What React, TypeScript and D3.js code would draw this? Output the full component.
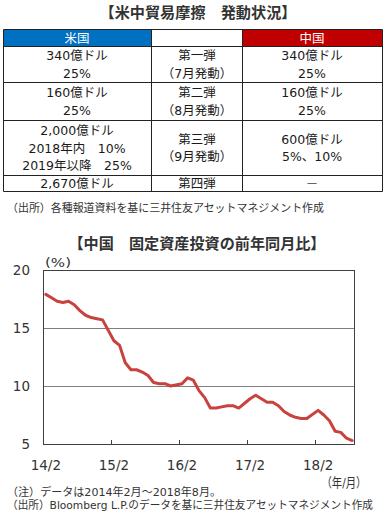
import React, { useEffect, useRef } from 'react';
import * as d3 from 'd3';

// table contents
const usCol = [['340億ドル', '25%'], ['160億ドル', '25%'], ['2,000億ドル', '2018年内　10%', '2019年以降　25%'], ['2,670億ドル']];
const phaseCol = [['第一弾', '（7月発動）'], ['第二弾', '（8月発動）'], ['第三弾', '（9月発動）'], ['第四弾']];
const chinaCol = [['340億ドル', '25%'], ['160億ドル', '25%'], ['600億ドル', '5%、10%'], ['－']];

// China fixed asset investment, YoY % (ytd), Feb 2014 - Aug 2018; January not published
const fai2014 = [17.9, 17.6, 17.3, 17.2, 17.3, 17.0, 16.5, 16.1, 15.9, 15.8, 15.7];
const fai2015 = [null, 13.9, 13.5, 12.0, 11.4, 11.4, 11.2, 10.9, 10.3, 10.2, 10.2, 10.0];
const fai2016 = [null, 10.2, 10.7, 10.5, 9.6, 9.0, 8.1, 8.1, 8.2, 8.3, 8.3, 8.1];
const fai2017 = [null, 8.9, 9.2, 8.9, 8.6, 8.6, 8.3, 7.8, 7.5, 7.3, 7.2, 7.2];
const fai2018 = [null, 7.9, 7.5, 7.0, 6.1, 6.0, 5.5, 5.3];
const yTicks = [5, 10, 15, 20];

const FONT = "'DejaVu Sans', 'Noto Sans CJK JP', sans-serif";
const INK = '#1a1a1a';

function App() {
  const svgRef = useRef<SVGSVGElement>(null);

  useEffect(() => {
    const svg = d3.select(svgRef.current);
    svg.selectAll('*').remove();

    const text = (x: number, y: number, s: string, opts: any = {}) => {
      const t = svg.append('text')
        .attr('x', x).attr('y', y)
        .attr('dy', '0.36em')
        .attr('font-family', FONT)
        .attr('font-size', opts.size || 12.5)
        .attr('font-weight', opts.weight || 'normal')
        .attr('fill', opts.fill || INK)
        .attr('text-anchor', opts.anchor || 'middle')
        .text(s);
      if (opts.len) t.attr('textLength', opts.len).attr('lengthAdjust', 'spacingAndGlyphs');
      return t;
    };

    // ---- table ----
    text(198, 13, '【米中貿易摩擦　発動状況】', { size: 15, weight: 'bold', fill: '#333', len: 197 });

    const colX = [3.5, 151.5, 242.5, 382.5];
    const rowY = [29.5, 46.5, 82.5, 120.5, 175.5, 191.5];

    svg.append('rect').attr('x', 4).attr('y', 30).attr('width', 147).attr('height', 16).attr('fill', '#0070c0');
    svg.append('rect').attr('x', 243).attr('y', 30).attr('width', 139).attr('height', 16).attr('fill', '#c00000');

    rowY.forEach(y => {
      svg.append('line').attr('x1', colX[0]).attr('x2', colX[3]).attr('y1', y).attr('y2', y).attr('stroke', '#222');
    });
    colX.forEach(x => {
      svg.append('line').attr('x1', x).attr('x2', x).attr('y1', rowY[0]).attr('y2', rowY[5]).attr('stroke', '#222');
    });

    const centers = [77, 197, 312];
    text(centers[0], 38.5, '米国', { fill: '#fff' });
    text(centers[2], 38.5, '中国', { fill: '#fff' });

    [usCol, phaseCol, chinaCol].forEach((col, ci) => {
      col.forEach((lines, ri) => {
        const mid = (rowY[ri + 1] + rowY[ri + 2]) / 2;
        const step = 17.7;
        lines.forEach((s, li) => {
          const y = mid + (li - (lines.length - 1) / 2) * step;
          text(centers[ci], y, s, { fill: s === '－' ? '#666' : INK });
        });
      });
    });

    text(7, 208, '（出所）各種報道資料を基に三井住友アセットマネジメント作成', { size: 11, anchor: 'start', fill: '#333', len: 317 });

    // ---- chart ----
    text(197, 244, '【中国　固定資産投資の前年同月比】', { size: 15, weight: 'bold', fill: '#333', len: 257 });

    const months = d3.timeMonth.range(new Date(2014, 1, 1), new Date(2018, 8, 1));
    const values = [...fai2014, ...fai2015, ...fai2016, ...fai2017, ...fai2018];
    const data = months.map((m, i) => ({ m, v: values[i] }));

    const left = 43, right = 355, top = 270, bottom = 444;
    const x = d3.scaleBand<Date>().domain(months).range([left, right]).paddingInner(0).paddingOuter(0);
    const y = d3.scaleLinear().domain([5, 20]).range([bottom, top]);

    // gridlines
    svg.append('g').selectAll('line')
      .data(yTicks.filter(t => t > 5 && t < 20))
      .enter().append('line')
      .attr('x1', left).attr('x2', right)
      .attr('y1', d => Math.round(y(d)) + 0.5).attr('y2', d => Math.round(y(d)) + 0.5)
      .attr('stroke', '#7f7f7f');

    // frame
    svg.append('rect')
      .attr('x', left + 0.5).attr('y', top + 0.5)
      .attr('width', right - left - 1).attr('height', bottom - top)
      .attr('fill', 'none').attr('stroke', '#404040');

    // y labels
    yTicks.forEach(t => text(30, y(t), String(t), { size: 13.5, anchor: 'end', fill: '#333' }));
    text(58, 262, '(%)', { size: 13, fill: '#333', len: 26 });

    // x ticks & labels on each February
    const febs = months.filter(m => m.getMonth() === 1);
    febs.forEach(m => {
      const xs = Math.round(x(m)!) + 0.5;
      svg.append('line').attr('x1', xs).attr('x2', xs).attr('y1', bottom - 4).attr('y2', bottom).attr('stroke', '#404040');
      text(x(m)! + x.bandwidth() / 2, 465, d3.timeFormat('%y/')(m) + (m.getMonth() + 1), { size: 13.5, fill: '#333' });
    });
    text(344, 482, '（年/月）', { size: 13, fill: '#333', len: 45 });

    const line = d3.line<{ m: Date; v: number | null }>()
      .x(d => x(d.m)! + x.bandwidth() / 2)
      .y(d => y(d.v as number));

    svg.append('path')
      .datum(data.filter(d => d.v != null))
      .attr('d', line)
      .attr('fill', 'none')
      .attr('stroke', '#c8423e')
      .attr('stroke-width', 3)
      .attr('stroke-linejoin', 'round')
      .attr('stroke-linecap', 'round');

    text(7, 492, '（注）データは2014年2月～2018年8月。', { size: 11, anchor: 'start', fill: '#333', len: 214 });
    text(7, 505, '（出所）Bloomberg L.P.のデータを基に三井住友アセットマネジメント作成', { size: 11, anchor: 'start', fill: '#333', len: 366 });
  }, []);

  return (
    <div style={{ position: 'absolute', left: 0, top: 0 }}>
      <svg ref={svgRef} width={388} height={517} style={{ display: 'block', background: '#fff' }}></svg>
    </div>
  );
}

export default App;
